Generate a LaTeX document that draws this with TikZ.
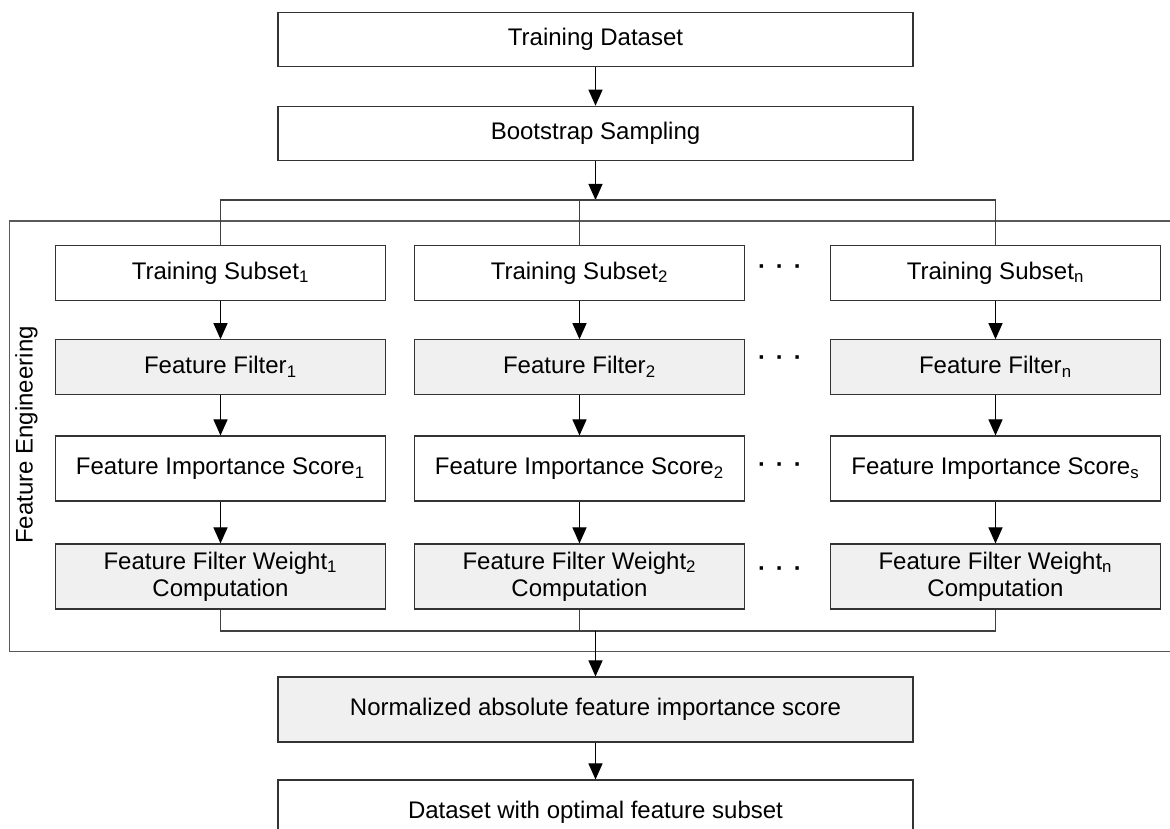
\documentclass[tikz,border=0pt]{standalone}
\usepackage{fontspec}
\setmainfont{Liberation Sans}
\usetikzlibrary{arrows.meta}
\tikzset{
  box/.style={draw=black!80, line width=0.6pt, inner sep=0pt, align=center,
    minimum height=1.09cm, font=\fontsize{13.66}{15.5}\selectfont},
  wide/.style={box, minimum width=12.7cm},
  col/.style={box, minimum width=6.61cm},
  shade/.style={fill=black!6},
  tall/.style={minimum height=1.3cm},
  arr/.style={-{Triangle[length=0.32cm,width=0.28cm]}, line width=0.6pt, draw=black},
  link/.style={line width=0.6pt, draw=black!75},
  dots/.style={font=\fontsize{13.66}{15.5}\selectfont\bfseries, inner sep=0pt},
}
\begin{document}
\begin{tikzpicture}
  \useasboundingbox (0,0) rectangle (23.4,-16.58);
  \node[wide] (data) at (11.91,-0.79) {Training Dataset};
  \node[wide] (boot) at (11.91,-2.67) {Bootstrap Sampling};
  \coordinate (split) at (11.91,-4.00);
  \draw[arr] (data) -- (boot);
  \draw[arr] (boot) -- (split);

  \draw[line width=0.6pt, draw=black!65] (0.19,-4.42) rectangle (23.8,-13.03);
  \node[rotate=90, font=\fontsize{13.66}{15.5}\selectfont] (feng) at (0.53,-8.70) {Feature Engineering};

  \node[col] (sub1) at (4.41,-5.46) {Training Subset\textsubscript{1}};
  \node[col] (sub2) at (11.59,-5.46) {Training Subset\textsubscript{2}};
  \node[col] (subn) at (19.91,-5.46) {Training Subset\textsubscript{n}};
  \node[col, shade] (filt1) at (4.41,-7.34) {Feature Filter\textsubscript{1}};
  \node[col, shade] (filt2) at (11.59,-7.34) {Feature Filter\textsubscript{2}};
  \node[col, shade] (filtn) at (19.91,-7.34) {Feature Filter\textsubscript{n}};
  \node[col, tall] (score1) at (4.41,-9.37) {Feature Importance Score\textsubscript{1}};
  \node[col, tall] (score2) at (11.59,-9.37) {Feature Importance Score\textsubscript{2}};
  \node[col, tall] (scoren) at (19.91,-9.37) {Feature Importance Score\textsubscript{s}};
  \node[col, tall, shade] (wgt1) at (4.41,-11.53) {Feature Filter Weight\textsubscript{1}\\Computation};
  \node[col, tall, shade] (wgt2) at (11.59,-11.53) {Feature Filter Weight\textsubscript{2}\\Computation};
  \node[col, tall, shade] (wgtn) at (19.91,-11.53) {Feature Filter Weight\textsubscript{n}\\Computation};

  \node[dots] (dsub) at (15.6,-5.40) {·\hspace{0.2cm}·\hspace{0.2cm}·};
  \node[dots] (dfilt) at (15.6,-7.21) {·\hspace{0.2cm}·\hspace{0.2cm}·};
  \node[dots] (dscore) at (15.6,-9.35) {·\hspace{0.2cm}·\hspace{0.2cm}·};
  \node[dots] (dwgt) at (15.6,-11.43) {·\hspace{0.2cm}·\hspace{0.2cm}·};

  \draw[link] (sub1.north) -- (sub1.north |- split) -- (subn.north |- split) -- (subn.north);
  \draw[link] (sub2.north) -- (sub2.north |- split);

  \draw[arr] (sub1) -- (filt1);
  \draw[arr] (sub2) -- (filt2);
  \draw[arr] (subn) -- (filtn);
  \draw[arr] (filt1) -- (score1);
  \draw[arr] (filt2) -- (score2);
  \draw[arr] (filtn) -- (scoren);
  \draw[arr] (score1) -- (wgt1);
  \draw[arr] (score2) -- (wgt2);
  \draw[arr] (scoren) -- (wgtn);

  \coordinate (merge) at (11.91,-12.62);
  \draw[link] (wgt1.south) -- (wgt1.south |- merge) -- (wgtn.south |- merge) -- (wgtn.south);
  \draw[link] (wgt2.south) -- (wgt2.south |- merge);

  \node[wide, tall, shade] (norm) at (11.91,-14.19) {Normalized absolute feature importance score};
  \node[wide, tall] (final) at (11.91,-16.25) {Dataset with optimal feature subset};
  \draw[arr] (merge) -- (norm);
  \draw[arr] (norm) -- (final);
\end{tikzpicture}
\end{document}
